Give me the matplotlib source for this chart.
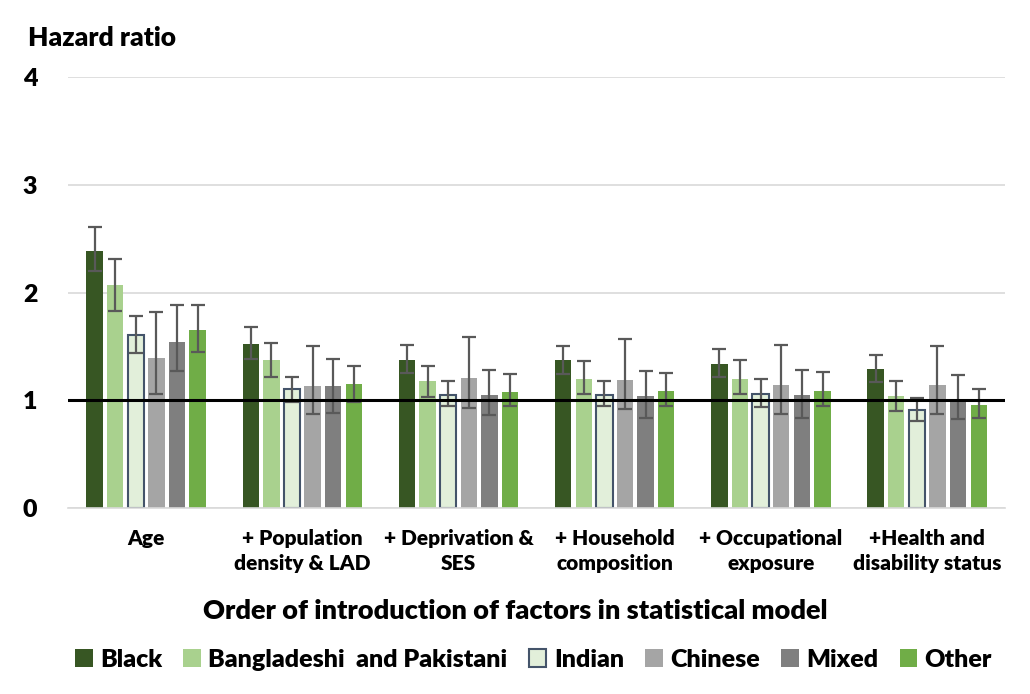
import numpy as np
import matplotlib.pyplot as plt

plt.rcParams['font.family'] = ['Lato', 'DejaVu Sans']
BOLD = "heavy"

# factor groups along the x axis
groups = ["Age", "+ Population\ndensity & LAD", "+ Deprivation &\nSES",
          "+ Household\ncomposition", "+ Occupational\nexposure", "+Health and\ndisability status"]

series = ["Black", "Bangladeshi  and Pakistani", "Indian", "Chinese", "Mixed", "Other"]

# hazard ratio per series, one value per group
black = [2.39, 1.52, 1.37, 1.37, 1.34, 1.29]
bangl = [2.07, 1.37, 1.18, 1.20, 1.20, 1.04]
indian = [1.61, 1.10, 1.05, 1.05, 1.06, 0.91]
chinese = [1.39, 1.13, 1.21, 1.19, 1.14, 1.14]
mixed = [1.54, 1.13, 1.05, 1.04, 1.05, 1.01]
other = [1.65, 1.15, 1.08, 1.09, 1.09, 0.96]

# confidence interval upper / lower
black_hi = [2.61, 1.68, 1.51, 1.50, 1.48, 1.42]
black_lo = [2.20, 1.38, 1.25, 1.24, 1.22, 1.17]
bangl_hi = [2.31, 1.53, 1.32, 1.36, 1.37, 1.18]
bangl_lo = [1.83, 1.22, 1.03, 1.06, 1.06, 0.90]
indian_hi = [1.78, 1.22, 1.18, 1.18, 1.20, 1.02]
indian_lo = [1.44, 0.98, 0.95, 0.95, 0.94, 0.81]
chinese_hi = [1.82, 1.50, 1.59, 1.57, 1.51, 1.50]
chinese_lo = [1.06, 0.87, 0.93, 0.92, 0.87, 0.87]
mixed_hi = [1.88, 1.38, 1.28, 1.27, 1.28, 1.23]
mixed_lo = [1.27, 0.88, 0.86, 0.84, 0.84, 0.83]
other_hi = [1.88, 1.32, 1.24, 1.25, 1.26, 1.10]
other_lo = [1.45, 0.98, 0.95, 0.95, 0.95, 0.84]

values = [black, bangl, indian, chinese, mixed, other]
highs = [black_hi, bangl_hi, indian_hi, chinese_hi, mixed_hi, other_hi]
lows = [black_lo, bangl_lo, indian_lo, chinese_lo, mixed_lo, other_lo]

colors = ["#375623", "#A9D18E", "#E2EFDA", "#A5A5A5", "#7F7F7F", "#70AD47"]
edges = ["none", "none", "#44546A", "none", "none", "none"]

fig = plt.figure(figsize=(10.3, 6.94), dpi=100)
ax = fig.add_axes([0.066, 0.268, 0.91, 0.621])

x = np.arange(len(groups))
pitch = 0.132
width = 0.105
for i, (vals, hi, lo) in enumerate(zip(values, highs, lows)):
    pos = x + (i - 2.5) * pitch
    vals = np.array(vals)
    yerr = [vals - np.array(lo), np.array(hi) - vals]
    ax.bar(pos, vals, width, color=colors[i], edgecolor=edges[i],
           linewidth=1.5 if edges[i] != "none" else 0, label=series[i], zorder=2)
    ax.errorbar(pos, vals, yerr=yerr, fmt="none", ecolor="#595959",
                elinewidth=1.6, capsize=5, capthick=1.6, zorder=3)

ax.axhline(1, color="black", lw=2.2, zorder=4)

ax.set_xlim(-0.5, len(groups) - 0.5)
ax.set_ylim(0, 4)
ax.set_yticks([0, 1, 2, 3, 4])
ax.set_yticklabels(["0", "1", "2", "3", "4"], fontsize=18, fontweight=BOLD)
ax.set_xticks(x)
ax.set_xticklabels(groups, fontsize=15, fontweight=BOLD, linespacing=1.4)
ax.tick_params(length=0, pad=15)
ax.tick_params(axis="y", pad=22)
ax.grid(axis="y", color="#D9D9D9", lw=1.2, zorder=0)
for s in ["top", "right", "left"]:
    ax.spines[s].set_visible(False)
ax.spines["bottom"].set_color("#D9D9D9")
ax.spines["bottom"].set_linewidth(1.2)

fig.text(0.027, 0.945, "Hazard ratio", fontsize=19, fontweight=BOLD, va="center")
fig.text(0.5, 0.12, "Order of introduction of factors in statistical model",
         fontsize=19.5, fontweight=BOLD, ha="center", va="center")

fig.legend(loc="center", bbox_to_anchor=(0.518, 0.049), ncol=6, frameon=False,
           prop={"size": 18, "weight": BOLD}, handlelength=0.7, handleheight=0.7,
           handletextpad=0.3, columnspacing=0.85)

fig.savefig("out.png", dpi=100)
